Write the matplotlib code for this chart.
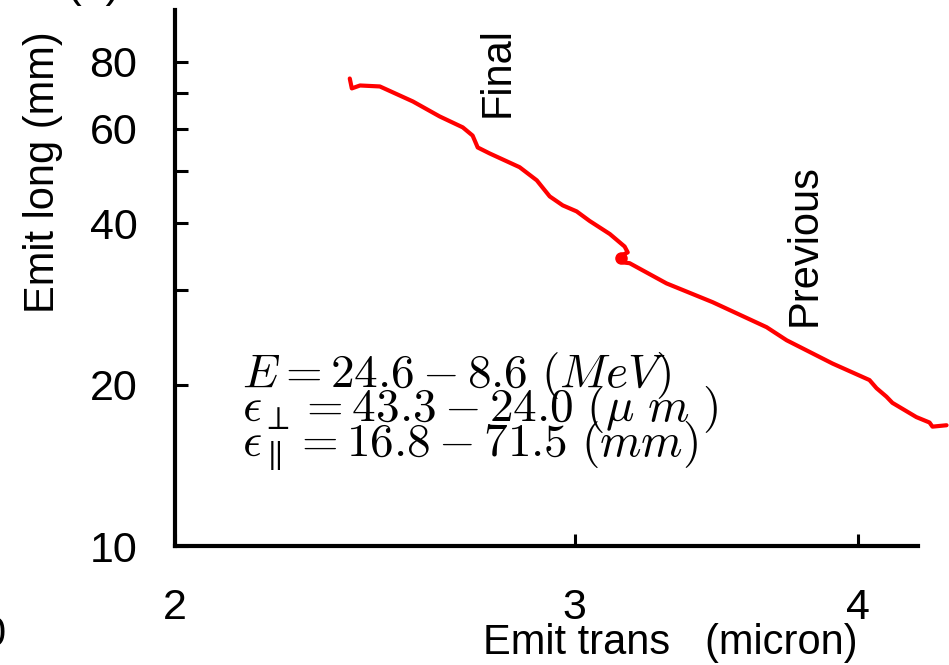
import numpy as np
import matplotlib
matplotlib.use("Agg")
import matplotlib.pyplot as plt
from matplotlib.ticker import FixedLocator, FixedFormatter, NullLocator

plt.rcParams['font.family'] = ['Liberation Sans', 'DejaVu Sans']
plt.rcParams['mathtext.fontset'] = 'cm'

# emittance track: transverse (micron) vs longitudinal (mm)
emit_trans = [2.388, 2.393, 2.413, 2.462, 2.546, 2.616, 2.678, 2.705, 2.719, 2.752,
              2.837, 2.887, 2.925, 2.964, 3.006, 3.046, 3.109, 3.156, 3.166, 3.140,
              3.153, 3.172, 3.293, 3.451, 3.645, 3.720, 3.897, 4.046, 4.075, 4.116,
              4.141, 4.243, 4.300, 4.313, 4.375]
emit_long = [74.5, 71.4, 72.3, 72.0, 67.5, 63.3, 60.4, 58.3, 55.4, 54.0,
             50.9, 48.1, 44.9, 43.2, 42.1, 40.4, 38.2, 36.2, 35.3, 34.7,
             33.8, 33.7, 30.9, 28.5, 25.6, 24.2, 21.9, 20.4, 19.7, 19.0,
             18.5, 17.4, 17.0, 16.7, 16.8]
knot_x = [3.143]
knot_y = [34.5]

y_major = [10, 20, 40, 60, 80]
y_minor = [30, 50, 70]
x_major = [2, 3, 4]

summary = [r'$E = 24.6 - 8.6\ (MeV)$',
           r'$\epsilon_{\perp} = 43.3 - 24.0\ (\mu\ m\ )$',
           r'$\epsilon_{\parallel} = 16.8 - 71.5\ (mm)$']

fig = plt.figure(figsize=(9.49, 6.65), dpi=100)
ax = fig.add_axes([0.1844, 0.1789, 0.7829, 0.8061])

ax.plot(emit_trans, emit_long, color='red', linewidth=3, clip_on=False,
        solid_joinstyle='round', solid_capstyle='round')
ax.plot(knot_x, knot_y, 'o', color='red', markersize=8, clip_on=False)

ax.set_xscale('log')
ax.set_yscale('log')
ax.set_xlim(2, 4.25)
ax.set_ylim(10, 100)

ax.yaxis.set_major_locator(FixedLocator(y_major))
ax.yaxis.set_major_formatter(FixedFormatter([str(v) for v in y_major]))
ax.yaxis.set_minor_locator(FixedLocator(y_minor))
ax.yaxis.set_minor_formatter(FixedFormatter([''] * len(y_minor)))
ax.xaxis.set_major_locator(FixedLocator(x_major))
ax.xaxis.set_major_formatter(FixedFormatter([str(v) for v in x_major]))
ax.xaxis.set_minor_locator(NullLocator())

for side in ['top', 'right']:
    ax.spines[side].set_visible(False)
for side in ['left', 'bottom']:
    ax.spines[side].set_linewidth(3)

ax.tick_params(axis='y', which='both', direction='in', length=9, width=2.2,
               labelsize=31, pad=27)
ax.tick_params(axis='x', which='both', direction='in', length=9, width=2.2,
               labelsize=31, pad=30)

fig.text(0.045, 0.741, 'Emit long (mm)', rotation=90, ha='center', va='center',
         fontsize=30)
fig.text(0.706, 0.033, 'Emit trans   (micron)', ha='center', va='center',
         fontsize=30)

fig.text(498 / 949, 1 - 72 / 665, 'Final', rotation=90, ha='center',
         va='center', fontsize=30)
fig.text(805 / 949, 1 - 245 / 665, 'Previous', rotation=90, ha='center',
         va='center', fontsize=30)

for i, line in enumerate(summary):
    fig.text(0.255, 0.418 - i * 0.0515, line, ha='left', va='baseline',
             fontsize=34)

# fragments of neighbouring panels cut by the crop
fig.text(0.07, 1.005, '(a)', ha='left', va='baseline', fontsize=32)
fig.text(0.006, 0.045, '0', ha='right', va='center', fontsize=30)

fig.savefig('out.png', dpi=100)
